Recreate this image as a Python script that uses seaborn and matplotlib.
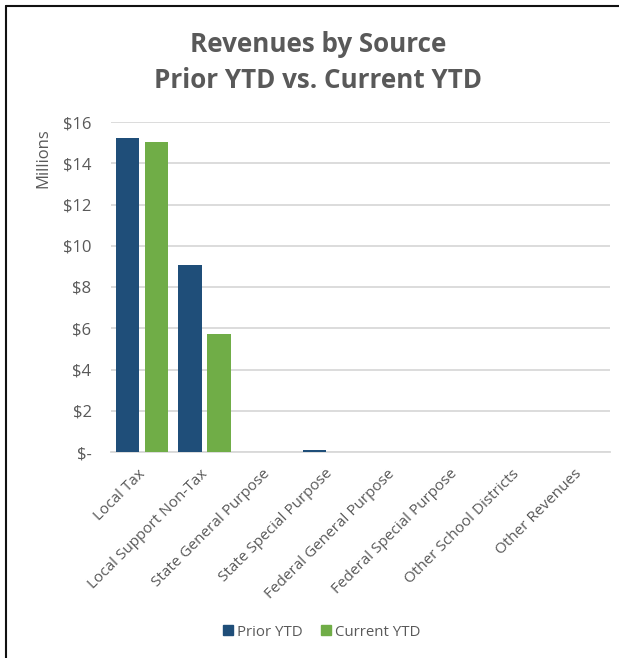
import matplotlib
matplotlib.use("Agg")
import matplotlib.pyplot as plt
from matplotlib.lines import Line2D
from matplotlib.ticker import FuncFormatter, MultipleLocator
from matplotlib.transforms import ScaledTranslation
import seaborn as sns
import pandas as pd

# Revenue categories and year-to-date totals (in millions of dollars)
categories = [
    "Local Tax",
    "Local Support Non-Tax",
    "State General Purpose",
    "State Special Purpose",
    "Federal General Purpose",
    "Federal Special Purpose",
    "Other School Districts",
    "Other Revenues",
]
prior_ytd = [15.22, 9.07, 0.0, 0.12, 0.0, 0.0, 0.0, 0.0]
current_ytd = [15.03, 5.72, 0.0, 0.0, 0.0, 0.0, 0.0, 0.0]
series_names = ["Prior YTD", "Current YTD"]

df = pd.DataFrame({
    "Source": categories * 2,
    "Period": [series_names[0]] * len(categories) + [series_names[1]] * len(categories),
    "Amount": prior_ytd + current_ytd,
})

sns.set_theme(style="white")
plt.rcParams["font.family"] = ["Open Sans", "DejaVu Sans"]

TEXT = "#595959"
GRID = "#D9D9D9"
palette = {"Prior YTD": "#1F4E79", "Current YTD": "#70AD47"}

fig = plt.figure(figsize=(6.19, 6.58), dpi=100)
ax = fig.add_axes([111 / 619, 1 - 452 / 658, 499 / 619, 330 / 658])

sns.barplot(
    data=df, x="Source", y="Amount", hue="Period",
    order=categories, hue_order=series_names, palette=palette,
    width=0.93, gap=0.2, saturation=1, ax=ax, legend=False,
    linewidth=0, zorder=3,
)

ax.set_ylim(0, 16)
ax.set_xlim(-0.5, len(categories) - 0.5)
ax.yaxis.set_major_locator(MultipleLocator(2))
ax.yaxis.set_major_formatter(FuncFormatter(lambda v, _: "$-" if v == 0 else f"${v:.0f}"))
ax.grid(axis="y", color=GRID, linewidth=1.3)
ax.set_axisbelow(True)
for side in ["top", "right", "left"]:
    ax.spines[side].set_visible(False)
ax.spines["bottom"].set_color(GRID)
ax.spines["bottom"].set_linewidth(1.3)
ax.spines["bottom"].set_zorder(1)
ax.set_xlabel("")
ax.set_ylabel("")
ax.tick_params(axis="y", length=0, pad=14, labelsize=12, labelcolor=TEXT)
ax.tick_params(axis="x", length=0, pad=0, labelsize=11, labelcolor=TEXT)

# Rotated category labels: baseline end sits just below each category centre
shift = ScaledTranslation(3 / 100, -22 / 100, fig.dpi_scale_trans)
for lbl in ax.get_xticklabels():
    lbl.set_rotation(45)
    lbl.set_ha("right")
    lbl.set_va("baseline")
    lbl.set_rotation_mode("anchor")
    lbl.set_transform(lbl.get_transform() + shift)

fig.text(43 / 619, 1 - 158 / 658, "Millions", rotation=90, ha="center", va="center",
         fontsize=12, color=TEXT)

fig.text(318 / 619, 1 - 52 / 658, "Revenues by Source", ha="center", va="baseline",
         fontsize=18.7, fontweight="bold", color=TEXT)
fig.text(318 / 619, 1 - 88 / 658, "Prior YTD vs. Current YTD", ha="center", va="baseline",
         fontsize=18.7, fontweight="bold", color=TEXT)

handles = [plt.Rectangle((0, 0), 1, 1, color=palette[n]) for n in series_names]
fig.legend(handles, series_names, loc="center", bbox_to_anchor=(322 / 619, 1 - 632 / 658),
           ncol=2, frameon=False, fontsize=10.8, labelcolor=TEXT,
           handlelength=0.67, handleheight=0.67, handletextpad=0.27, columnspacing=1.2)

# Outer frame edges (top and left)
fig.add_artist(Line2D([6 / 619, 1], [1 - 6 / 658, 1 - 6 / 658], color="#111111", linewidth=1.5,
                      transform=fig.transFigure))
fig.add_artist(Line2D([6 / 619, 6 / 619], [0, 1 - 6 / 658], color="#111111", linewidth=1.5,
                      transform=fig.transFigure))

fig.savefig("out.png", dpi=100, facecolor="white")
